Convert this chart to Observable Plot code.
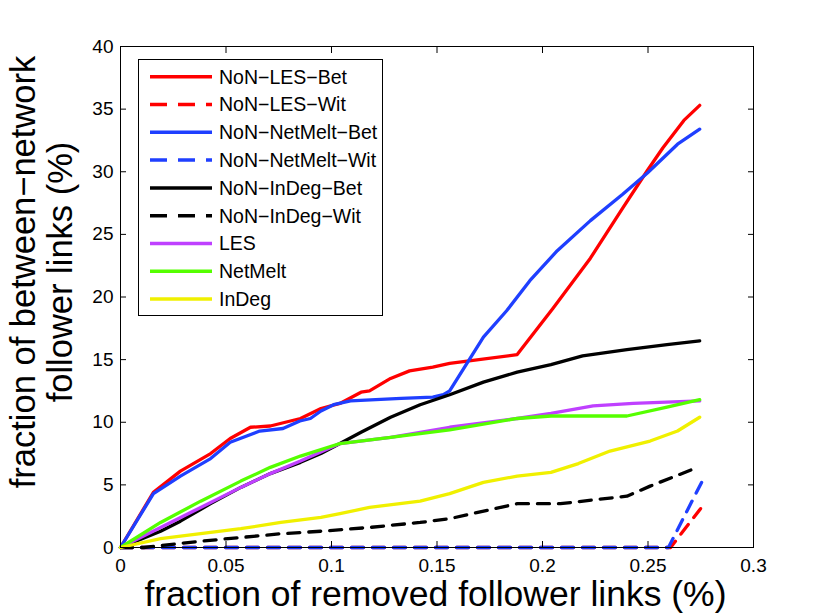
<!DOCTYPE html>
<html><head><meta charset="utf-8">
<script src="https://cdn.jsdelivr.net/npm/d3@7"></script>
<script src="https://cdn.jsdelivr.net/npm/@observablehq/plot@0.6"></script>
<style>body{margin:0;background:#fff;} #chart svg{display:block;}</style>
</head><body><div id="chart"></div>
<script>
const xTicks = [0, 0.05, 0.1, 0.15, 0.2, 0.25, 0.3];
const xTickLabels = ["0", "0.05", "0.1", "0.15", "0.2", "0.25", "0.3"];
const yTicks = [0, 5, 10, 15, 20, 25, 30, 35, 40];
const xLabel = "fraction of removed follower links (%)";
const yLabelLines = ["fraction of between\u2212network", "follower links (%)"];

const seriesNames = ["NoN\u2212LES\u2212Bet", "NoN\u2212LES\u2212Wit", "NoN\u2212NetMelt\u2212Bet", "NoN\u2212NetMelt\u2212Wit",
  "NoN\u2212InDeg\u2212Bet", "NoN\u2212InDeg\u2212Wit", "LES", "NetMelt", "InDeg"];
const seriesColors = ["#ff0000", "#ff0000", "#1f3fff", "#1f3fff", "#000000", "#000000", "#bf40ff", "#55ff00", "#f0f000"];
const seriesDashed = [false, true, false, true, false, true, false, false, false];

const lesBetX = [0,0.0156,0.0284,0.0427,0.052,0.0616,0.071,0.0853,0.095,0.104,0.114,0.118,0.128,0.137,0.148,0.156,0.188,0.205,0.2227,0.238,0.2497,0.257,0.267,0.2745];
const lesBetY = [0,4.4,6.1,7.5,8.7,9.6,9.7,10.3,11.1,11.5,12.4,12.5,13.5,14.1,14.4,14.7,15.4,19.1,23.1,27.1,30.1,31.9,34.1,35.3];
const lesWitX = [0,0.2607,0.2749];
const lesWitY = [0,0,3.1];
const netBetX = [0,0.0156,0.0284,0.0427,0.052,0.066,0.077,0.085,0.09,0.095,0.101,0.109,0.133,0.148,0.153,0.156,0.172,0.183,0.194,0.207,0.2227,0.238,0.2497,0.264,0.2745];
const netBetY = [0,4.3,5.7,7.1,8.4,9.3,9.5,10.1,10.3,10.9,11.4,11.7,11.9,12.0,12.2,12.5,16.8,18.9,21.3,23.7,26.1,28.2,29.9,32.2,33.4];
const netWitX = [0,0.2597,0.2754];
const netWitY = [0,0,5.2];
const degBetX = [0,0.019,0.0284,0.0427,0.057,0.071,0.0853,0.095,0.104,0.114,0.128,0.142,0.156,0.172,0.188,0.204,0.219,0.24,0.259,0.2745];
const degBetY = [0,1.3,2.1,3.5,4.8,5.9,6.8,7.5,8.3,9.2,10.4,11.4,12.2,13.2,14.0,14.6,15.3,15.8,16.2,16.5];
const degWitX = [0,0.011,0.038,0.057,0.076,0.095,0.118,0.142,0.156,0.188,0.2085,0.24,0.251,0.272];
const degWitY = [0,0,0.5,0.8,1.1,1.3,1.6,2.0,2.3,3.5,3.5,4.1,4.9,6.3];
const lesX = [0,0.019,0.038,0.057,0.071,0.0853,0.104,0.128,0.156,0.188,0.204,0.224,0.243,0.2745];
const lesY = [0,1.6,3.2,4.8,5.9,6.9,8.3,8.8,9.6,10.3,10.7,11.3,11.5,11.7];
const netX = [0,0.019,0.038,0.057,0.071,0.0853,0.104,0.128,0.156,0.188,0.204,0.24,0.259,0.2745];
const netY = [0,2.0,3.7,5.3,6.4,7.3,8.3,8.8,9.4,10.3,10.5,10.5,11.2,11.8];
const degX = [0,0.019,0.038,0.057,0.076,0.095,0.104,0.118,0.142,0.156,0.172,0.188,0.204,0.217,0.232,0.251,0.264,0.2745];
const degY = [0,0.7,1.1,1.5,2.0,2.4,2.7,3.2,3.7,4.3,5.2,5.7,6.0,6.7,7.7,8.5,9.3,10.4];

const seriesXs = [lesBetX, lesWitX, netBetX, netWitX, degBetX, degWitX, lesX, netX, degX];
const seriesYs = [lesBetY, lesWitY, netBetY, netWitY, degBetY, degWitY, lesY, netY, degY];

const W = 830, H = 616, mL = 120, mR = 77, mT = 46, mB = 69;

const lineMarks = seriesNames.map((name, s) => {
  const rows = seriesXs[s].map((x, i) => ({x, y: seriesYs[s][i]}));
  return Plot.line(rows, {x: "x", y: "y", stroke: seriesColors[s], strokeWidth: 3.3,
    strokeDasharray: seriesDashed[s] ? "12,9" : null, strokeLinejoin: "round"});
});

const plot = Plot.plot({
  width: W, height: H,
  marginLeft: mL, marginRight: mR, marginTop: mT, marginBottom: mB,
  style: {fontFamily: "'Liberation Sans', Arial, Helvetica, sans-serif", fontSize: "19px", color: "#000", background: "#fff"},
  x: {domain: [0, 0.3]},
  y: {domain: [0, 40]},
  marks: [
    ...lineMarks,
    Plot.frame({stroke: "#000", strokeWidth: 1}),
    Plot.axisX({anchor: "bottom", ticks: xTicks, tickSize: -6, tickPadding: 17, tickFormat: (d, i) => xTickLabels[i], label: null, fontSize: 19}),
    Plot.axisX({anchor: "top", ticks: xTicks, tickSize: -6, tickFormat: () => "", label: null}),
    Plot.axisY({anchor: "left", ticks: yTicks, tickSize: -6, tickPadding: 13, tickFormat: d => String(d), label: null, fontSize: 19}),
    Plot.axisY({anchor: "right", ticks: yTicks, tickSize: -6, tickFormat: () => "", label: null})
  ]
});
document.getElementById("chart").appendChild(plot);

const svg = d3.select(plot);
const font = "'Liberation Sans', Arial, Helvetica, sans-serif";
// axis labels
svg.append("text").attr("x", mL + (W - mL - mR) / 2 - 1).attr("y", 606)
  .attr("text-anchor", "middle").attr("font-family", font).attr("font-size", 35.5).attr("fill", "#000")
  .text(xLabel);
const yl = [35, 72];
yLabelLines.forEach((t, i) => {
  svg.append("text").attr("transform", `translate(${yl[i]},272) rotate(-90)`)
    .attr("text-anchor", "middle").attr("font-family", font).attr("font-size", 34.5).attr("fill", "#000")
    .text(t);
});
// legend
const lg = svg.append("g");
lg.append("rect").attr("x", 138.5).attr("y", 59.5).attr("width", 244).attr("height", 256)
  .attr("fill", "#fff").attr("stroke", "#000").attr("stroke-width", 1);
seriesNames.forEach((name, i) => {
  const cy = 76.7 + i * 27.8;
  lg.append("line").attr("x1", 150).attr("x2", 212).attr("y1", cy).attr("y2", cy)
    .attr("stroke", seriesColors[i]).attr("stroke-width", 3.5)
    .attr("stroke-dasharray", seriesDashed[i] ? "17,11" : null);
  lg.append("text").attr("x", 219).attr("y", cy).attr("dy", "0.35em")
    .attr("text-anchor", "start")
    .attr("font-family", font).attr("font-size", 19.5).attr("fill", "#000").text(name);
});
</script>
</body></html>
